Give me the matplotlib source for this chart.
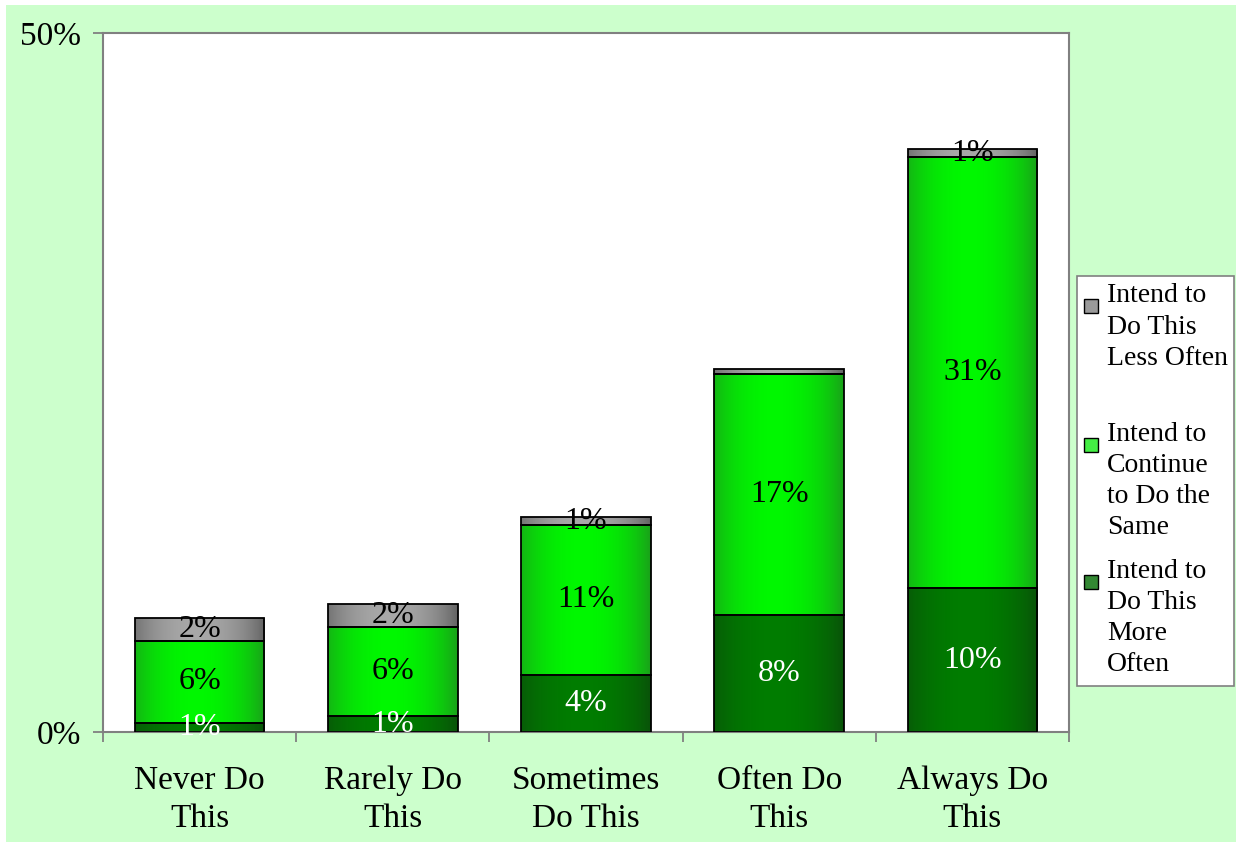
import numpy as np
import matplotlib.pyplot as plt
from matplotlib.patches import Rectangle
from matplotlib.colors import to_rgb

plt.rcParams["font.family"] = ["Liberation Serif", "DejaVu Serif"]

categories = ["Never Do\nThis", "Rarely Do\nThis", "Sometimes\nDo This", "Often Do\nThis", "Always Do\nThis"]
series_names = [
    "Intend to\nDo This\nMore\nOften",
    "Intend to\nContinue\nto Do the\nSame",
    "Intend to\nDo This\nLess Often",
]
more_often = [0.64, 1.14, 4.1, 8.4, 10.3]
continue_same = [5.9, 6.4, 10.7, 17.2, 30.8]
less_often = [1.6, 1.6, 0.57, 0.36, 0.57]

# shading: (edge colour, centre colour, label colour)
STYLES = [
    ("#0b4a0b", "#007d00", "white"),
    ("#1f8f1f", "#00f800", "black"),
    ("#555555", "#a8a8a8", "black"),
]
LEGEND_SWATCH = ["#338833", "#44ee44", "#9a9a9a"]

W, H = 1236, 842
fig = plt.figure(figsize=(W / 100, H / 100), dpi=100)
fig.patch.set_facecolor("white")
fig.patches.append(Rectangle((6 / W, 0), 1 - 6 / W, 1 - 5 / H, transform=fig.transFigure,
                             facecolor="#ccffcc", edgecolor="none", zorder=-10))

ax = fig.add_axes([103 / W, 110 / H, (1069 - 103) / W, (732 - 33) / H])
ax.set_facecolor("white")


def cylinder(edge, centre, n=200):
    t = np.linspace(0, 1, n)
    f = np.clip(1 - ((t - 0.47) / 0.56) ** 2, 0, 1) ** 0.8
    e, c = np.array(to_rgb(edge)), np.array(to_rgb(centre))
    return (e[None, :] + (c - e)[None, :] * f[:, None])[None, :, :]


x = np.arange(len(categories))
width = 0.67
bottom = np.zeros(len(categories))
for values, (edge, centre, txt_color) in zip([more_often, continue_same, less_often], STYLES):
    bars = ax.bar(x, values, width, bottom=bottom, color=centre, edgecolor="none", zorder=1)
    grad = cylinder(edge, centre)
    for rect in bars:
        im = ax.imshow(grad, extent=[rect.get_x(), rect.get_x() + rect.get_width(),
                                     rect.get_y(), rect.get_y() + rect.get_height()],
                       aspect="auto", zorder=2, interpolation="bilinear")
        im.set_clip_path(rect)
    ax.bar(x, values, width, bottom=bottom, fill=False, edgecolor="black", linewidth=1.3, zorder=3)
    for xi, b, v in zip(x, bottom, values):
        if v >= 0.5:
            ax.text(xi, b + v / 2, f"{v:.0f}%", ha="center", va="center",
                    fontsize=23, color=txt_color, zorder=4)
    bottom += np.array(values)

ax.set_xlim(-0.5, len(categories) - 0.5)
ax.set_ylim(0, 50)
ax.set_yticks([0, 50])
ax.set_yticklabels(["0%", "50%"], fontsize=24)
ax.set_xticks(x)
ax.set_xticklabels(categories, fontsize=24)
for lbl in ax.get_xticklabels():
    lbl.set_linespacing(1.34)
ax.set_xticks(np.arange(len(categories) + 1) - 0.5, minor=True)
ax.tick_params(axis="x", which="major", length=0, pad=24)
ax.tick_params(axis="x", which="minor", length=7, color="#808080", width=1.3)
ax.tick_params(axis="y", length=7, color="#808080", width=1.3, pad=9)
for sp in ax.spines.values():
    sp.set_color("#808080")
    sp.set_linewidth(1.5)

# legend box
lx0, ly0, lx1, ly1 = 1077, 276, 1234, 686
fig.patches.append(Rectangle((lx0 / W, 1 - ly1 / H), (lx1 - lx0) / W, (ly1 - ly0) / H,
                             transform=fig.transFigure, facecolor="white",
                             edgecolor="#808080", linewidth=1.2, zorder=5))
# (series index, centre of first text line, centre of whole entry)
entries = [(2, 296, 327), (1, 435, 481), (0, 572, 618)]
for idx, first_line, mid in entries:
    fig.patches.append(Rectangle((1084 / W, 1 - (first_line + 10 + 7) / H), 14 / W, 14 / H,
                                 transform=fig.transFigure, facecolor=LEGEND_SWATCH[idx],
                                 edgecolor="black", linewidth=1, zorder=6))
    fig.text(1107 / W, 1 - mid / H, series_names[idx], fontsize=20,
             ha="left", va="center", linespacing=1.33, zorder=7)

fig.savefig("out.png", dpi=100, facecolor=fig.get_facecolor())
